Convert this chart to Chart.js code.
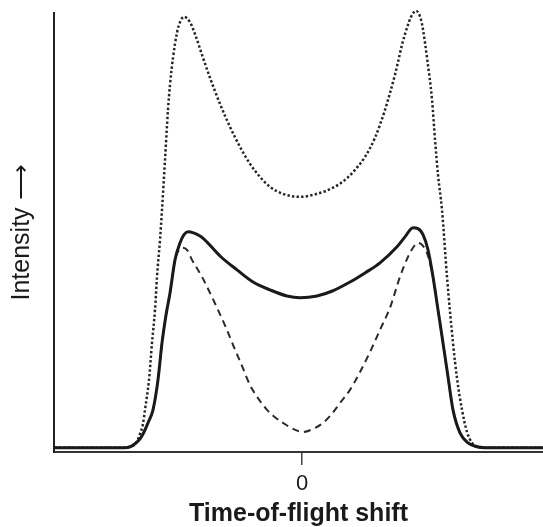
<!DOCTYPE html>
<html>
<head>
<meta charset="utf-8">
<script src="https://cdn.jsdelivr.net/npm/chart.js@4"></script>
<style>
  html, body { margin: 0; padding: 0; background: #fff; }
  #wrap { width: 543px; height: 527px; }
</style>
</head>
<body>
<div id="wrap"><canvas id="chart"></canvas></div>
<script>
// Time-of-flight shift (arbitrary units, 0 = no shift)
const dottedX = [-2.48, -1.82, -1.72, -1.66, -1.62, -1.59, -1.57, -1.53, -1.50, -1.47, -1.45, -1.42, -1.40, -1.37, -1.34, -1.32, -1.29, -1.25, -1.22, -1.18, -1.12, -1.06, -0.99, -0.92, -0.82, -0.72, -0.62, -0.52, -0.42, -0.32, -0.19, -0.02, 0.15, 0.31, 0.43, 0.53, 0.63, 0.73, 0.83, 0.88, 0.93, 0.96, 1.00, 1.05, 1.09, 1.14, 1.19, 1.21, 1.25, 1.30, 1.33, 1.36, 1.40, 1.45, 1.51, 1.55, 1.60, 1.65, 1.70, 1.76, 1.83, 2.41];
const dottedY = [0, 0, 0.2, 1.1, 3.2, 5.5, 8.7, 15.6, 24.1, 31.7, 39.3, 47.8, 54.7, 66.2, 77.8, 83.5, 89.7, 95.5, 97.9, 99.1, 97.9, 94.5, 89.7, 85.1, 79.1, 73.8, 69.2, 65.3, 62.3, 60.0, 58.4, 57.7, 58.4, 59.8, 61.6, 63.9, 66.9, 71.3, 77.7, 81.6, 85.8, 88.7, 92.7, 96.6, 99.1, 100.5, 98.5, 96.2, 89.7, 80.1, 70.9, 62.8, 54.7, 39.3, 24.1, 16.0, 8.7, 3.6, 1.1, 0.2, 0, 0];

const solidX = [-2.48, -1.77, -1.72, -1.67, -1.62, -1.58, -1.54, -1.49, -1.44, -1.40, -1.36, -1.32, -1.27, -1.22, -1.18, -1.14, -1.02, -0.95, -0.82, -0.65, -0.49, -0.32, -0.15, -0.02, 0.15, 0.31, 0.48, 0.63, 0.78, 0.95, 1.03, 1.11, 1.16, 1.21, 1.26, 1.31, 1.36, 1.41, 1.46, 1.51, 1.58, 1.66, 1.75, 1.83, 2.41];
const solidY = [0, 0, 0.2, 0.9, 2.0, 3.6, 5.7, 8.7, 15.6, 24.1, 30.5, 35.6, 43.2, 47.1, 49.0, 49.7, 48.7, 47.3, 44.1, 40.9, 38.1, 36.3, 34.9, 34.5, 34.9, 36.1, 38.1, 40.2, 42.5, 46.2, 48.5, 50.6, 50.4, 49.0, 45.5, 39.3, 31.7, 24.1, 16.3, 8.7, 3.4, 1.1, 0.2, 0, 0];

const dashedX = [-2.48, -1.77, -1.72, -1.67, -1.62, -1.58, -1.54, -1.49, -1.44, -1.40, -1.36, -1.32, -1.27, -1.23, -1.19, -1.15, -1.10, -1.00, -0.92, -0.84, -0.76, -0.68, -0.60, -0.52, -0.44, -0.35, -0.27, -0.19, -0.09, 0.01, 0.11, 0.21, 0.30, 0.38, 0.48, 0.58, 0.68, 0.78, 0.88, 0.98, 1.06, 1.11, 1.16, 1.21, 1.26, 1.31, 1.36, 1.41, 1.46, 1.51, 1.58, 1.66, 1.75, 1.83, 2.41];
const dashedY = [0, 0, 0.2, 0.9, 2.0, 3.6, 5.7, 8.7, 15.6, 24.1, 30.5, 35.6, 43.2, 45.5, 46.0, 45.5, 43.2, 39.3, 35.6, 31.7, 27.6, 23.1, 18.8, 14.4, 11.4, 8.7, 7.0, 5.7, 4.3, 3.6, 4.3, 5.7, 7.8, 10.3, 13.3, 17.4, 22.0, 27.1, 32.2, 39.3, 43.9, 46.0, 47.1, 46.4, 44.1, 39.3, 31.7, 24.1, 16.3, 8.7, 3.4, 1.1, 0.2, 0, 0];

const xTicks = [0];

function toPoints(xs, ys) {
  return xs.map((x, i) => ({ x: x, y: ys[i] }));
}

const ink = "#1a1a1a";

new Chart(document.getElementById("chart").getContext("2d"), {
  type: "line",
  data: {
    datasets: [
      {
        label: "solid",
        data: toPoints(solidX, solidY),
        borderColor: ink,
        borderWidth: 3,
        pointRadius: 0,
        cubicInterpolationMode: "monotone",
        clip: false
      },
      {
        label: "dashed",
        data: toPoints(dashedX, dashedY),
        borderColor: "#2a2a2a",
        borderWidth: 2,
        borderDash: [7, 5],
        pointRadius: 0,
        cubicInterpolationMode: "monotone",
        clip: false
      },
      {
        label: "dotted",
        data: toPoints(dottedX, dottedY),
        borderColor: "#262626",
        borderWidth: 2.5,
        borderDash: [2.4, 2.2],
        pointRadius: 0,
        cubicInterpolationMode: "monotone",
        clip: false
      }
    ]
  },
  options: {
    responsive: true,
    maintainAspectRatio: false,
    animation: false,
    layout: { padding: { top: 13, left: 0, right: 0, bottom: 0 } },
    plugins: {
      legend: { display: false },
      tooltip: { enabled: false }
    },
    scales: {
      x: {
        type: "linear",
        min: -2.48,
        max: 2.41,
        afterBuildTicks: (axis) => {
          axis.ticks = xTicks.map(v => ({ value: v }));
        },
        afterFit: (scale) => { scale.height = 75; },
        grid: {
          drawOnChartArea: false,
          drawTicks: true,
          tickLength: 13,
          color: "#444",
          lineWidth: 1.5
        },
        border: { display: true, color: "#333", width: 2 },
        ticks: {
          padding: 6,
          color: ink,
          font: { family: "Liberation Sans, Arial, sans-serif", size: 22 },
          callback: (v) => String(v)
        },
        title: {
          display: true,
          text: "Time-of-flight shift",
          color: ink,
          padding: { top: 0, bottom: 0 },
          font: { family: "Liberation Sans, Arial, sans-serif", size: 25, weight: "bold", lineHeight: 1.05 }
        }
      },
      y: {
        min: -1,
        max: 100,
        afterFit: (scale) => { scale.width = 54; },
        grid: { display: false },
        border: { display: true, color: "#222", width: 2 },
        ticks: { display: false },
        title: {
          display: true,
          text: "Intensity \u27F6",
          color: ink,
          padding: { top: 7, bottom: 0 },
          font: { family: "Liberation Sans, Arial, sans-serif", size: 25 }
        }
      }
    }
  }
});
</script>
</body>
</html>
